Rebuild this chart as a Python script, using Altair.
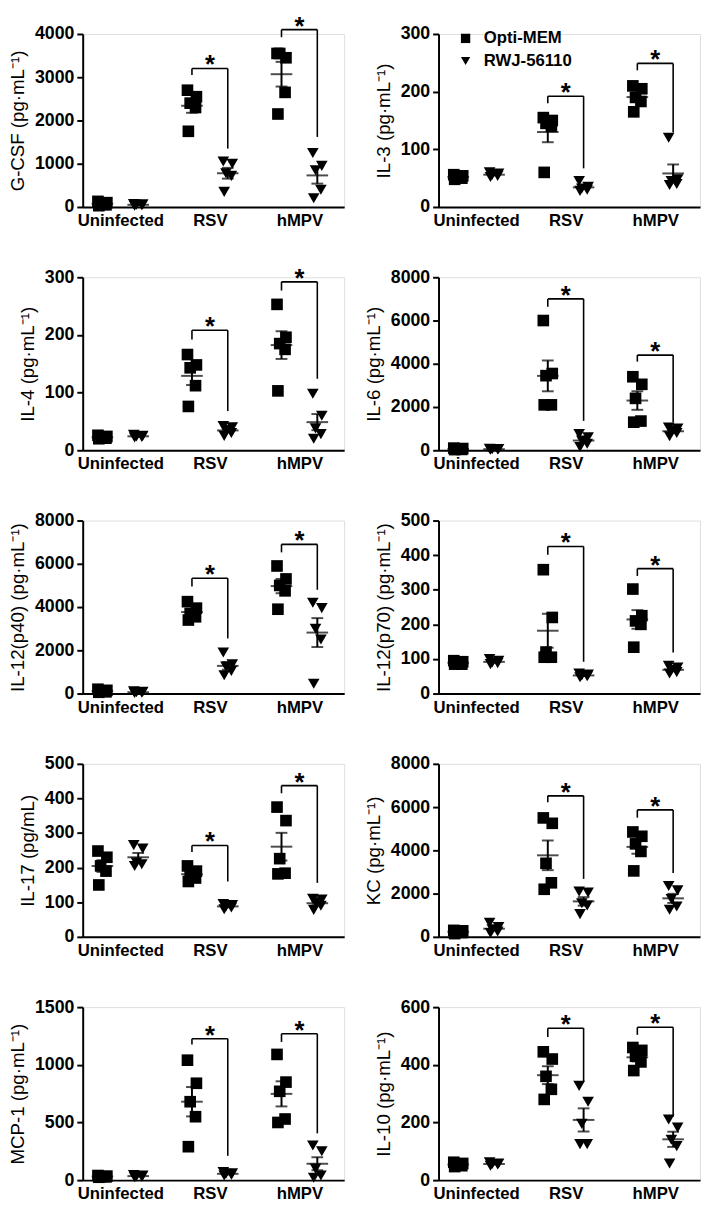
import altair as alt
import pandas as pd

GROUPS = ["Uninfected", "RSV", "hMPV"]
SERIES = ["Opti-MEM", "RWJ-56110"]

SUP = " (pg\u00b7mL\u207b\u00b9)"
TITLES = ["G-CSF" + SUP, "IL-3" + SUP, "IL-4" + SUP, "IL-6" + SUP,
          "IL-12(p40)" + SUP, "IL-12(p70)" + SUP, "IL-17 (pg/mL)", "KC" + SUP,
          "MCP-1" + SUP, "IL-10" + SUP]
Y_MAX = [4000, 300, 300, 8000, 8000, 500, 500, 8000, 1500, 600]
Y_STEP = [1000, 100, 100, 2000, 2000, 100, 100, 2000, 500, 200]

# individual animals: [Uninfected, RSV, hMPV]
gcsf_opti = [[130, 100, 70, 50, 30], [2700, 2550, 2400, 2300, 1750], [3550, 3450, 3550, 2650, 2150]]
gcsf_rwj = [[70, 60, 50, 40, 30], [1050, 1000, 780, 720, 350], [1250, 950, 850, 400, 200]]
il3_opti = [[56, 54, 52, 50, 48], [155, 150, 145, 140, 60], [210, 205, 190, 183, 165]]
il3_rwj = [[60, 58, 56, 54, 52], [45, 35, 32, 30, 28], [120, 48, 45, 40, 38]]
il4_opti = [[26, 24, 22, 21, 20], [166, 148, 143, 112, 76], [253, 196, 185, 175, 103]]
il4_rwj = [[27, 25, 24, 23, 22], [42, 40, 35, 30, 25], [98, 60, 38, 28, 20]]
il6_opti = [[100, 80, 60, 40, 30], [6000, 3550, 3450, 2100, 2100], [3400, 3050, 2400, 1350, 1300]]
il6_rwj = [[70, 60, 50, 40, 30], [750, 600, 450, 300, 150], [1050, 1000, 900, 800, 650]]
p40_opti = [[200, 150, 120, 80, 60], [4250, 3950, 3700, 3550, 3400], [5900, 5300, 5000, 4750, 3900]]
p40_rwj = [[100, 80, 60, 40, 30], [1900, 1350, 1250, 1050, 850], [4200, 3950, 3000, 2500, 450]]
p70_opti = [[95, 92, 88, 85, 85], [358, 220, 120, 105, 105], [302, 225, 210, 200, 134]]
p70_rwj = [[100, 95, 90, 88, 85], [58, 55, 52, 50, 47], [80, 75, 68, 62, 58]]
il17_opti = [[248, 230, 205, 190, 150], [205, 190, 180, 170, 160], [375, 336, 226, 184, 182]]
il17_rwj = [[265, 255, 215, 210, 205], [95, 92, 88, 85, 80], [110, 108, 100, 90, 78]]
kc_opti = [[300, 280, 250, 200, 150], [5500, 5250, 3400, 2500, 2200], [4850, 4650, 4300, 3950, 3050]]
kc_rwj = [[650, 450, 350, 250, 180], [2100, 2050, 1550, 1450, 1050], [2350, 2150, 1750, 1400, 1250]]
mcp_opti = [[40, 35, 30, 28, 25], [1040, 840, 680, 550, 290], [1090, 850, 770, 530, 500]]
mcp_rwj = [[45, 40, 35, 30, 25], [70, 60, 55, 48, 40], [300, 250, 100, 40, 20]]
il10_opti = [[62, 58, 54, 50, 47], [445, 420, 360, 315, 280], [460, 450, 430, 410, 380]]
il10_rwj = [[62, 58, 56, 54, 50], [327, 272, 195, 125, 125], [210, 182, 140, 118, 58]]

OPTI = [gcsf_opti, il3_opti, il4_opti, il6_opti, p40_opti, p70_opti, il17_opti, kc_opti, mcp_opti, il10_opti]
RWJ = [gcsf_rwj, il3_rwj, il4_rwj, il6_rwj, p40_rwj, p70_rwj, il17_rwj, kc_rwj, mcp_rwj, il10_rwj]

# significance brackets: [top, left leg end, right leg end]
BRACKET_RSV = [[3200, 3050, 1350], [192, 180, 67], [208, 192, 68], [7000, 6640, 1360],
               [5330, 4950, 2550], [425, 401, 92], [264, 245, 160], [6520, 6220, 2680],
               [1226, 1176, 211], [527, 496, 341]]
BRACKET_HMPV = [[4100, 3925, 1620], [249, 237, 129], [292, 277, 124], [4400, 4100, 1280],
                [6900, 6530, 4800], [361, 340, 119], [437, 415, 156], [5870, 5510, 2950],
                [1269, 1198, 406], [530, 504, 220]]

X_DOMAIN = [-0.42, 2.50]
SHIFT = 0.2
JITTER = [-0.05, 0.05, -0.02, 0.04, -0.04]
W, H = 266, 176
FONT = "Liberation Sans"


def panel(i):
    rows = []
    for s, sv in enumerate([OPTI[i], RWJ[i]]):
        for g, vals in enumerate(sv):
            xc = g + (-SHIFT if s == 0 else SHIFT)
            for k, v in enumerate(vals):
                rows.append(dict(series=SERIES[s], xc=xc, xp=xc + JITTER[k], v=v))
    df = pd.DataFrame(rows)

    segs, stars = [], []
    for g, br in [(1, BRACKET_RSV[i]), (2, BRACKET_HMPV[i])]:
        top, lb, rb = br
        xl, xr = g - SHIFT, g + SHIFT
        segs += [dict(x=xl, x2=xr, y=top, y2=top),
                 dict(x=xl, x2=xl, y=top, y2=lb),
                 dict(x=xr, x2=xr, y=top, y2=rb)]
        stars.append(dict(x=g, y=top))
    seg_df = pd.DataFrame(segs)
    star_df = pd.DataFrame(stars)

    xs = alt.Scale(domain=X_DOMAIN, nice=False, zero=False)
    ys = alt.Scale(domain=[0, Y_MAX[i]], nice=False, zero=True)
    yvals = list(range(0, Y_MAX[i] + 1, Y_STEP[i]))

    xaxis = alt.Axis(values=[0, 1, 2],
                     labelExpr="['Uninfected','RSV','hMPV'][datum.value]",
                     ticks=False, grid=False, title=None, labelFontSize=17,
                     labelFontWeight="bold", labelPadding=6, domainWidth=2,
                     domainColor="black", labelColor="black", labelFlush=False,
                     labelFont=FONT)
    yaxis = alt.Axis(values=yvals, format="d", title=TITLES[i], grid=False, tickSize=6,
                     tickWidth=2, tickColor="black", domainWidth=2,
                     domainColor="black", labelFontSize=18, labelFontWeight="bold",
                     labelColor="black", labelPadding=3, labelFont=FONT,
                     titleFont=FONT, titleFontSize=19, titleFontWeight="normal",
                     titleColor="black", titlePadding=7)

    def X(f):
        return alt.X(f, scale=xs, axis=xaxis, title=None)

    def Y(f):
        return alt.Y(f, scale=ys, axis=yaxis, title=TITLES[i])

    if i == 1:
        legend = alt.Legend(title=None, orient="none", legendX=19, legendY=-4,
                            labelFontSize=17, labelFontWeight="bold", labelFont=FONT,
                            labelColor="black", symbolFillColor="black", symbolSize=90,
                            symbolStrokeColor="black", symbolStrokeWidth=0,
                            labelOffset=10, rowPadding=5, padding=0)
    else:
        legend = None

    base = alt.Chart(df)
    pts = base.mark_point(filled=True, opacity=1, color="black", size=140).encode(
        x=X("xp:Q"), y=Y("v:Q"),
        shape=alt.Shape("series:N", scale=alt.Scale(domain=SERIES, range=["square", "triangle-down"]),
                        legend=legend),
    )
    stats = base.transform_aggregate(
        m="mean(v)", se="stderr(v)", groupby=["series", "xc"]
    ).transform_calculate(lo="datum.m - datum.se", hi="datum.m + datum.se")
    mean_t = stats.mark_tick(orient="horizontal", size=22, thickness=2, color="black").encode(
        x=X("xc:Q"), y=Y("m:Q"))
    sem_r = stats.mark_rule(strokeWidth=2, color="black").encode(
        x=X("xc:Q"), y=Y("lo:Q"), y2="hi:Q")
    cap_hi = stats.mark_tick(orient="horizontal", size=12, thickness=2, color="black").encode(
        x=X("xc:Q"), y=Y("hi:Q"))
    cap_lo = stats.mark_tick(orient="horizontal", size=12, thickness=2, color="black").encode(
        x=X("xc:Q"), y=Y("lo:Q"))

    br = alt.Chart(seg_df).mark_rule(strokeWidth=1.6, color="black").encode(
        x=X("x:Q"), x2="x2:Q", y=Y("y:Q"), y2="y2:Q")
    st = alt.Chart(star_df).mark_text(text="*", fontSize=26, fontWeight="bold", font=FONT,
                                      baseline="alphabetic", align="center", dy=5,
                                      color="black").encode(
        x=X("x:Q"), y=Y("y:Q"))

    return alt.layer(pts, br, st, sem_r, cap_hi, cap_lo, mean_t).properties(width=W, height=H)


chart = alt.concat(
    *[panel(i) for i in range(10)], columns=2,
    spacing={"row": 71.5, "column": 96}, bounds="flush"
).resolve_scale(
    shape="independent"
).resolve_legend(
    shape="independent"
).properties(
    padding={"top": -5, "left": 0, "right": 0, "bottom": 0}
).configure_view(strokeWidth=0, stroke="transparent").configure(font=FONT)

chart.save("out.html", embed_options={"renderer": "svg", "actions": False})
